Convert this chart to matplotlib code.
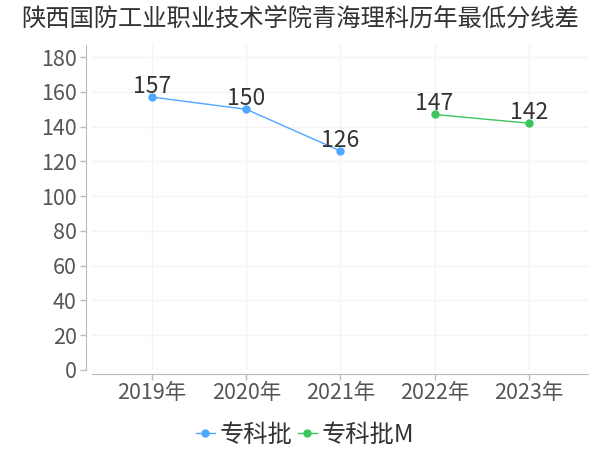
import matplotlib
matplotlib.use("Agg")
import matplotlib.pyplot as plt

plt.rcParams['font.family'] = ['Noto Sans CJK SC', 'DejaVu Sans']

title = "陕西国防工业职业技术学院青海理科历年最低分线差"
years = ["2019年", "2020年", "2021年", "2022年", "2023年"]
s1_name = "专科批"
s1_idx = [0, 1, 2]
s1_vals = [157, 150, 126]
s2_name = "专科批M"
s2_idx = [3, 4]
s2_vals = [147, 142]

blue = "#4ea8ff"
green = "#3dc45b"

fig = plt.figure(figsize=(6, 4.5), dpi=100)
ax = fig.add_axes([0.153, 0.178, 0.827, 0.722])

ax.plot(s1_idx, s1_vals, color=blue, lw=1, marker="o", ms=5, label=s1_name)
ax.plot(s2_idx, s2_vals, color=green, lw=1, marker="o", ms=5, label=s2_name)
for i, v in zip(s1_idx + s2_idx, s1_vals + s2_vals):
    ax.text(i, v - 0.5, str(v), ha="center", va="bottom", fontsize=16.5, color="#333333")

ax.set_xlim(-0.64, 4.63)
ax.set_ylim(0, 187)
ax.set_xticks(range(len(years)))
ax.set_xticklabels(years)
ax.set_yticks(range(0, 181, 20))
ax.tick_params(labelsize=15.5, colors="#555555", length=4, width=1, pad=3)
ax.tick_params(axis="both", color="#bbbbbb")
ax.tick_params(axis="x", pad=2)
ax.grid(True, color="#f4f4f4", lw=1)
ax.set_axisbelow(True)

for s in ["top", "right"]:
    ax.spines[s].set_visible(False)
for s in ["left", "bottom"]:
    ax.spines[s].set_color("#bbbbbb")
ax.spines["left"].set_position(("outward", 4))
ax.spines["bottom"].set_position(("outward", 3))

fig.text(0.5, 0.958, title, ha="center", va="center", fontsize=17.5, color="#333333")
ax.legend(loc="center", bbox_to_anchor=(0.43, -0.2), ncol=2, frameon=False,
          fontsize=17.5, handlelength=0.8, handletextpad=0.2, columnspacing=0.2,
          labelcolor="#333333", borderpad=0)

fig.savefig("out.png", dpi=100)
